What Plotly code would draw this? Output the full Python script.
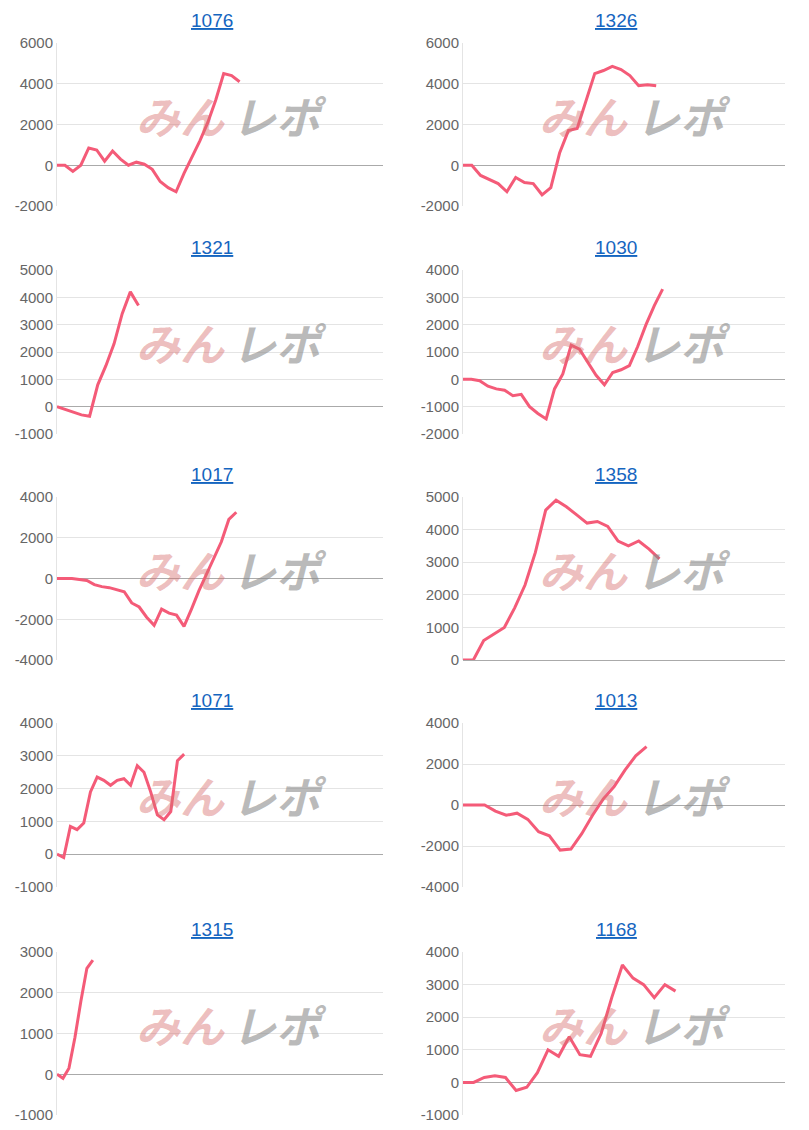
import plotly.graph_objects as go
from plotly.subplots import make_subplots

# machine numbers and cumulative difference per game slot
titles = ["1076", "1326", "1321", "1030", "1017", "1358", "1071", "1013", "1315", "1168"]

s1076 = [0, 0, -300, 0, 850, 750, 200, 700, 300, 0, 150, 50, -200, -800, -1100, -1300,
         -400, 400, 1200, 2100, 3200, 4500, 4400, 4100]
s1326 = [0, 0, -500, -700, -900, -1300, -600, -850, -900, -1450, -1100, 600, 1700, 1800,
         3200, 4500, 4650, 4850, 4700, 4400, 3900, 3950, 3900]
s1321 = [0, -100, -200, -300, -350, 800, 1500, 2300, 3400, 4200, 3700]
s1030 = [0, 0, -50, -250, -350, -400, -600, -550, -1000, -1250, -1450, -350, 200, 1250,
         1100, 600, 150, -200, 250, 350, 500, 1200, 2000, 2700, 3300]
s1017 = [0, 0, 0, -50, -100, -300, -400, -450, -550, -650, -1200, -1400, -1900, -2300,
         -1500, -1700, -1800, -2350, -1500, -600, 200, 1000, 1800, 2900, 3250]
s1358 = [0, 0, 600, 800, 1000, 1600, 2300, 3300, 4600, 4900, 4700, 4450, 4200, 4250,
         4100, 3650, 3500, 3650, 3400, 3100]
s1071 = [0, -100, 850, 750, 950, 1900, 2350, 2250, 2100, 2250, 2300, 2100, 2700, 2500,
         1900, 1200, 1050, 1300, 2850, 3050]
s1013 = [0, 0, 0, -300, -500, -400, -700, -1300, -1500, -2200, -2150, -1400, -500, 300,
         900, 1700, 2400, 2850]
s1315 = [0, -100, 150, 900, 1800, 2600, 2800]
s1168 = [0, 0, 150, 200, 150, -250, -150, 300, 1000, 800, 1400, 850, 800, 1500, 2600,
         3600, 3200, 3000, 2600, 3000, 2800]

series = [s1076, s1326, s1321, s1030, s1017, s1358, s1071, s1013, s1315, s1168]

# axis settings per chart
y_ranges = [[-2000, 6000], [-2000, 6000], [-1000, 5000], [-2000, 4000], [-4000, 4000],
            [0, 5000], [-1000, 4000], [-4000, 4000], [-1000, 3000], [-1000, 4000]]
y_dticks = [2000, 2000, 1000, 1000, 2000, 1000, 1000, 2000, 1000, 1000]
# fraction of plot width where each line ends
x_end_frac = [0.56, 0.60, 0.25, 0.62, 0.55, 0.61, 0.39, 0.57, 0.11, 0.66]

W, H = 809, 1130
OFF = 8  # page body margin
col_px = [(57, 383), (463, 785)]
row_px = [(43, 206), (270, 434), (497, 660), (723, 887), (952, 1115)]

fig = make_subplots(rows=5, cols=2)
annotations = []
for i, (name, vals) in enumerate(zip(titles, series)):
    r, c = i // 2, i % 2
    ax = "" if i == 0 else str(i + 1)
    fig.add_trace(go.Scatter(x=list(range(len(vals))), y=vals, mode="lines",
                             line=dict(color="#f45b78", width=3), showlegend=False),
                  row=r + 1, col=c + 1)
    x0, x1 = [p - OFF for p in col_px[c]]
    y0, y1 = [p - OFF for p in row_px[r]]
    xmax = (len(vals) - 1) / x_end_frac[i]
    lo, hi = y_ranges[i]
    tv = list(range(lo, hi + 1, y_dticks[i]))
    fig.layout["xaxis" + ax].update(domain=[x0 / W, x1 / W], range=[0, xmax],
                                    showticklabels=False, showgrid=False, zeroline=False,
                                    showline=False)
    fig.layout["yaxis" + ax].update(domain=[1 - y1 / H, 1 - y0 / H], range=y_ranges[i],
                                    tickvals=tv, ticktext=[str(v) for v in tv],
                                    gridcolor="#e4e4e4", zeroline=True,
                                    zerolinecolor="#aaaaaa", zerolinewidth=1,
                                    showline=True, linecolor="#e4e4e4",
                                    tickfont=dict(size=15, color="#666666"))
    # title
    annotations.append(dict(text="<u>%s</u>" % name, x=0.5, y=1, yanchor="bottom",
                            yshift=10, xshift=-8,
                            xref="x%s domain" % ax, yref="y%s domain" % ax,
                            showarrow=False, font=dict(size=19, color="#1565c0")))
    # watermark
    annotations.append(dict(text="<b><i>みん</i></b>", x=0.52, y=0.56, xanchor="right",
                            xref="x%s domain" % ax, yref="y%s domain" % ax,
                            showarrow=False, font=dict(size=44, color="rgba(215,110,110,0.45)",
                                                       family="Noto Sans CJK JP")))
    annotations.append(dict(text="<b><i>レポ</i></b>", x=0.53, y=0.56, xanchor="left",
                            xref="x%s domain" % ax, yref="y%s domain" % ax,
                            showarrow=False, font=dict(size=44, color="rgba(140,140,140,0.6)",
                                                       family="Noto Sans CJK JP")))

fig.update_layout(width=W, height=H, margin=dict(l=0, r=0, t=0, b=0, autoexpand=False),
                  plot_bgcolor="white", paper_bgcolor="white",
                  font=dict(family="Liberation Sans"), annotations=annotations)
fig.write_html("out.html")
